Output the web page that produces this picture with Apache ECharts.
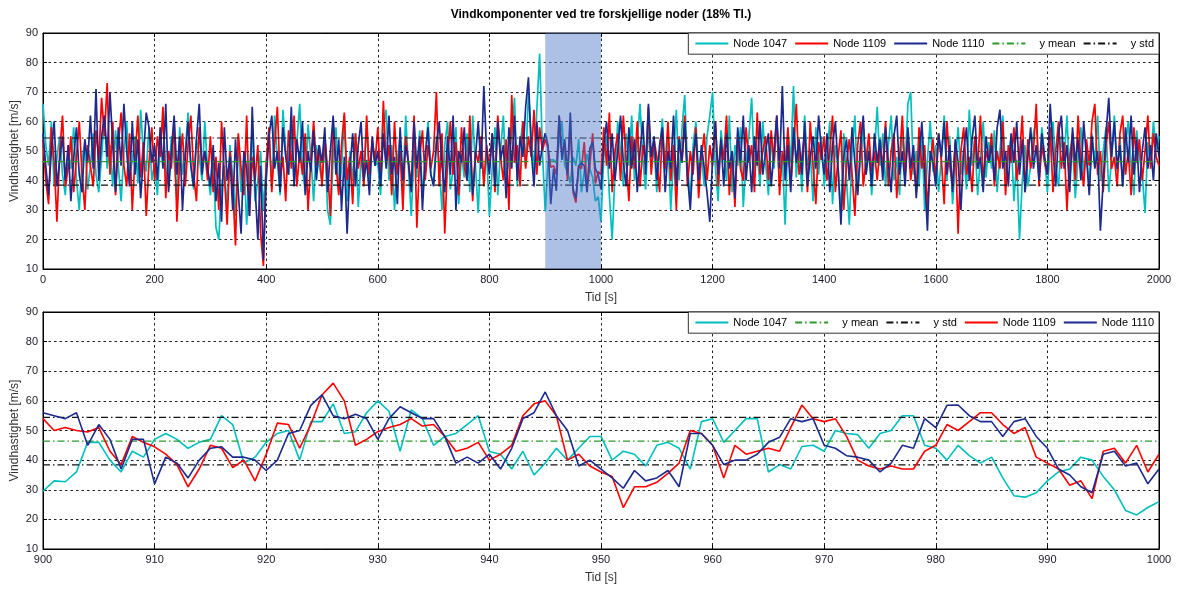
<!DOCTYPE html>
<html>
<head>
<meta charset="utf-8">
<script src="https://cdn.jsdelivr.net/npm/echarts@6/dist/echarts.min.js"></script>
<style>
  html, body { margin: 0; padding: 0; background: #fff; }
  #chart { width: 1177px; height: 591px; }
</style>
</head>
<body>
<div id="chart"></div>
<script>
// ---- data -------------------------------------------------------------
const chartTitle = 'Vindkomponenter ved tre forskjellige noder (18% TI.)';
const yName = 'Vindhastighet [m/s]';
const xName = 'Tid [s]';

// Overview: full record, one sample every 5 s from t = 0 to 2000 s
const overviewStart = 0;
const overviewStep = 5;
const overview1047 = [
  66,52,45,60,38,48,55,42,35,50,44,58,40,30,47,53,37,45,56,42,
  36,48,62,44,52,38,57,45,33,50,60,41,47,55,39,64,49,43,58,40,
  46,35,52,61,44,38,55,47,33,58,42,50,63,45,37,54,48,40,60,43,
  35,47,24,20,38,45,30,52,41,28,55,36,48,25,44,58,33,40,50,30,
  45,56,38,62,47,35,64,50,42,57,39,53,66,44,36,59,48,33,52,45,
  40,54,30,25,48,58,36,44,62,33,50,40,56,31,47,42,60,38,53,45,
  46,35,58,64,40,52,30,47,55,37,62,44,28,50,41,57,34,48,60,42,
  39,55,46,30,52,60,37,44,58,32,49,41,56,36,62,45,29,53,40,50,
  28,44,58,35,50,62,40,47,56,68,38,52,60,45,70,55,43,64,83,50,
  29.5,46,47,47,46,53,60,45,43,39,48,45,54,36,43,49,44,41,33,34.5,
  26,48,55,35,20,42,60,50,38,56,45,62,40,53,66,47,37,58,44,52,
  36,50,61,43,55,30,48,64,40,57,69,45,34,52,60,42,49,38,55,62,
  70,44,33,57,48,40,62,36,52,45,58,31,47,55,68,42,50,38,60,46,
  35,54,44,60,38,49,25,57,46,72,41,53,36,62,45,50,33,58,42,55,
  38,48,60,32,52,44,28,56,40,25,50,62,36,47,58,42,54,35,49,65,
  45,56,38,52,62,40,48,35,57,44,66,70,42,50,38,58,30,47,60,43,
  52,36,48,62,40,55,32,46,58,42,50,37,64,45,54,35,48,60,41,53,
  44,57,36,50,62,42,48,55,33,47,20,40,52,38,45,56,60,42,58,48,
  36,52,60,44,38,55,47,62,40,53,34,48,58,42,50,37,56,45,62,40,
  50,58,36,47,62,43,55,38,52,60,45,35,57,48,42,29,53,46,60,50,
  55
];
const overview1109 = [
  54,40,32,58,46,26,50,62,38,44,55,36,48,60,42,30,52,45,38,57,
  47,68,55,73,42,60,35,52,63,45,38,56,30,48,62,41,53,28,46,58,
  40,55,48,65,34,50,44,60,26,47,56,38,52,62,42,33,58,45,50,40,
  55,36,48,30,60,42,25,50,38,18,56,44,35,62,28,48,40,52,22,11,
  46,58,36,52,65,40,48,33,57,44,62,38,50,42,56,30,47,60,45,52,
  38,55,44,28,60,46,35,52,63,40,48,32,56,44,50,38,62,42,54,46,
  58,40,67,45,52,35,60,42,50,30,55,46,38,62,24,48,57,40,52,44,
  50,70,38,56,22,47,60,42,53,35,58,45,40,62,33,50,46,55,38,52,
  44,56,36,62,48,40,54,30,69,46,52,38,60,44,55,48,64,42,58,50,
  54,51,44.5,45,42,62,49.6,52,40,60,36,32.5,45,44,53,37,45,56,39,43,
  42,58,45,63,36,50,56,40,62,47,33,55,44,60,38,52,46,65,42,54,
  48,36,57,44,60,40,52,30,55,46,62,38,50,42,58,34,48,56,40,52,
  45,60,38,53,47,62,35,50,31,56,44,40,58,46,52,36,63,42,50,55,
  40,57,46,62,35,50,44,58,38,52,66,42,48,56,36,60,45,32,53,47,
  55,40,50,62,36,48,57,30,46,54,42,28,52,60,38,47,56,43,50,40,
  52,45,60,38,50,56,34,47,62,42,55,40,48,36,58,44,52,30,46,54,
  40,56,47,32,60,45,38,53,22,50,58,42,48,36,55,44,62,40,50,46,
  56,38,50,44,60,35,52,46,58,40,48,62,36,54,44,50,66,38,52,46,
  42,58,36,50,60,44,53,30,48,56,40,62,46,38,54,45,60,66,42,50,
  36,52,60,44,48,38,56,62,42,50,35,58,46,54,40,50,62,44,56,48,
  45
];
const overview1110 = [
  56,45,35,50,60,38,47,55,40,52,33,48,58,42,36,54,46,62,44,71,
  40,55,62,48,70,52,36,58,45,66,50,38,60,42,54,34,48,63,58,46,
  52,40,58,44,66,36,50,62,42,55,30,48,60,45,38,54,66,42,50,44,
  38,52,33,46,26,58,40,48,30,54,36,22,50,44,28,65,38,20,45,13,
  40,55,62,44,50,36,58,48,42,65,38,54,46,60,35,50,43,57,40,52,
  46,58,36,50,62,42,54,30,48,22,44,56,38,52,60,40,47,35,55,45,
  50,38,56,44,62,42,48,32,58,40,52,46,36,60,44,55,30,48,58,42,
  38,52,60,45,36,55,42,62,30,50,46,58,40,54,35,48,60,44,72,50,
  42,56,38,60,47,52,34,58,44,62,40,55,48,65,75,50,38,60,45,52,
  56,52,32,44,36.5,62,47,54,42,63,37,34,45,46,45,36,51,53,44,42,
  37,52,60,44,56,40,50,62,46,38,58,44,54,36,50,60,42,66,48,55,
  40,52,58,36,50,44,62,38,54,46,60,42,30,48,56,40,52,44,36,26,
  48,60,42,54,38,56,44,50,34,58,46,62,40,52,36,55,45,60,42,50,
  56,38,50,62,44,72,40,52,36,58,46,54,42,60,38,48,55,44,62,50,
  42,56,36,52,60,44,25,48,54,40,58,46,35,52,62,42,50,38,56,46,
  54,40,58,46,36,55,62,42,50,38,58,44,52,34,48,60,42,23,50,46,
  38,56,48,60,42,52,36,54,46,30,50,58,40,54,62,44,48,36,55,46,
  52,40,58,64,44,50,38,56,46,60,42,54,36,48,58,44,52,40,56,48,
  42,66,50,38,56,62,44,52,36,58,46,54,40,60,48,35,55,44,50,23,
  40,56,68,48,60,44,52,38,58,46,62,42,54,36,50,58,44,52,40,56,
  48
];

// Detail window 900-1000 s, one sample per second
const detailStart = 900;
const detailStep = 1;
const detail1047 = [
  29.5,33,32.7,36,46,46,40,36,43,41,
  47,49,47,44,46,47,55,52,39,41,
  46,49,50,40,53,53,59,49,49.6,56,
  60,56.5,43,57,54,45,48,49,52,55,
  42.9,42,37,43,35,39,44,40,44,48,
  48,40,43,42,38,45,46,44,37,53,
  54,46,50,54,54,36,38.5,37,44.6,45,
  43,50,49,48.6,44,49,50,55,55,45,
  44,40,45,41.5,39,41,34,28,27.5,29,
  33,36,37,41,40,34.5,30,23,21.5,24,
  26
];
const detail1109 = [
  54,50,51,50,49.5,51,43,38.5,48,46,
  44.5,42,38.5,31,37,45,44,37.5,40,33,
  42,52.5,52,44,52,62,66,60,45,47,
  49.6,51,52,54,51.5,52,48,43,44,46,
  40,42,45,55,59,60,55,40,42,38,
  36,34.5,24,31,31,32.5,35.5,39,50,49,
  45,34,45,42,43,44,43,51,58.6,54,
  53,54,48,40,38,37,38,37,37,43,
  45,52,50,53,56,56,52,49,51,41,
  39,37,31.5,33,27,43,44,39,45,36,
  42
];
const detail1110 = [
  56,55,54,56,45,52,47,37,47,47,
  32,41,39,34,40,44,44.5,41,41,40,
  36.5,40,49,50,58.5,62,55,54,55.5,54,
  47,54,58,56,54,54,48,39,41,39,
  42,37,44,54,56,63,55,50,38,40,
  37,34,30.5,36.5,33,34,36.5,31,49,49,
  45,38.5,40,40,42,46,47.7,54,53,54,
  45,44,41.5,41,40,36,39,45,44,54,
  51,58.5,58.6,55,53,53,48,53,54,48,
  44,37,35,31,29,42,43,38,39,32,
  37
];

const yMean = 46.4;
const yStd = 8.0;

// axis ranges: [min, max, interval]
const overviewRange = [0, 2000, 200];
const detailRange = [900, 1000, 10];
const yRange = [10, 90, 10];

// ---- styling ----------------------------------------------------------
const C1047 = '#00bfbf';
const C1109 = '#ff0000';
const C1110 = '#1b2a8c';
const CMEAN = '#2a9a2a';
const CSTD = '#111111';
const FONT = '"Liberation Sans", Arial, sans-serif';
const dashDot = [7, 3, 1.5, 3];

function toPairs(start, step, arr) {
  return arr.map((v, i) => [start + i * step, v]);
}

function nodeSeries(name, color, data, idx, width) {
  return {
    name, type: 'line', xAxisIndex: idx, yAxisIndex: idx, data,
    symbol: 'none', showSymbol: false, silent: true, animation: false,
    lineStyle: { color, width }, itemStyle: { color }
  };
}

function levelSeries(name, color, value, range, idx) {
  return {
    name, type: 'line', xAxisIndex: idx, yAxisIndex: idx,
    data: [[range[0], value], [range[1], value]],
    symbol: 'none', showSymbol: false, silent: true, animation: false,
    lineStyle: { color, width: 1.2, type: dashDot }, itemStyle: { color }
  };
}

function xAxes(gridIndex, range) {
  return [{
    gridIndex, type: 'value', position: 'bottom',
    min: range[0], max: range[1], interval: range[2],
    axisLine: { onZero: false, lineStyle: { color: '#000', width: 1 } },
    axisTick: { inside: true, length: 4, lineStyle: { color: '#000' } },
    axisLabel: { margin: 5, fontSize: 11, color: '#1a1a2a', fontFamily: FONT, formatter: v => String(v) },
    splitLine: { show: true, lineStyle: { color: '#222', type: [2.5, 3], width: 1 } },
    name: xName, nameLocation: 'middle', nameGap: 23, nameMoveOverlap: false,
    nameTextStyle: { fontSize: 12, color: '#333', fontFamily: FONT }
  }, {
    gridIndex, type: 'value', position: 'top',
    min: range[0], max: range[1], interval: range[2],
    axisLine: { onZero: false, lineStyle: { color: '#000', width: 1 } },
    axisTick: { inside: true, length: 4, lineStyle: { color: '#000' } },
    axisLabel: { show: false }, splitLine: { show: false }
  }];
}

function yAxes(gridIndex) {
  return [{
    gridIndex, type: 'value', position: 'left',
    min: yRange[0], max: yRange[1], interval: yRange[2],
    axisLine: { onZero: false, show: true, lineStyle: { color: '#000', width: 1 } },
    axisTick: { show: true, inside: true, length: 4, lineStyle: { color: '#000' } },
    axisLabel: { margin: 5, fontSize: 11, color: '#1a1a2a', fontFamily: FONT },
    splitLine: { show: true, lineStyle: { color: '#222', type: [2.5, 3], width: 1 } },
    name: yName, nameLocation: 'middle', nameGap: 22, nameMoveOverlap: false,
    nameTextStyle: { fontSize: 12, color: '#333', fontFamily: FONT }
  }, {
    gridIndex, type: 'value', position: 'right',
    min: yRange[0], max: yRange[1], interval: yRange[2],
    axisLine: { onZero: false, show: true, lineStyle: { color: '#000', width: 1 } },
    axisTick: { show: true, inside: true, length: 4, lineStyle: { color: '#000' } },
    axisLabel: { show: false }, splitLine: { show: false }
  }];
}

function legendBox(top, names) {
  return {
    top, right: 18, orient: 'horizontal',
    data: names,
    itemWidth: 33, itemHeight: 14, itemGap: 7,
    padding: [5, 5, 5, 6],
    backgroundColor: '#fff', borderColor: '#333', borderWidth: 1,
    selectedMode: false,
    itemStyle: { opacity: 0 },
    textStyle: { fontSize: 11, color: '#000', fontFamily: FONT },
    formatter: n => (n.indexOf('y ') === 0 ? '   ' + n : n),
    z: 20
  };
}

const o1047 = toPairs(overviewStart, overviewStep, overview1047);
const o1109 = toPairs(overviewStart, overviewStep, overview1109);
const o1110 = toPairs(overviewStart, overviewStep, overview1110);
const d1047 = toPairs(detailStart, detailStep, detail1047);
const d1109 = toPairs(detailStart, detailStep, detail1109);
const d1110 = toPairs(detailStart, detailStep, detail1110);

const chart = echarts.init(document.getElementById('chart'), null, { renderer: 'canvas' });

const gridBase = { left: 43, right: 18, show: true, borderColor: '#000', borderWidth: 1, backgroundColor: '#fff', containLabel: false, outerBoundsMode: 'none' };

chart.setOption({
  animation: false,
  backgroundColor: '#fff',
  graphic: [{
    type: 'text', x: 601, y: 9, z: 30,
    style: {
      text: chartTitle, fill: '#000', textAlign: 'center', textVerticalAlign: 'top',
      font: 'bold 12px "Liberation Sans", Arial, sans-serif'
    }
  }],
  grid: [
    Object.assign({ top: 33, height: 236 }, gridBase),
    Object.assign({ top: 312, height: 237 }, gridBase)
  ],
  xAxis: [...xAxes(0, overviewRange), ...xAxes(1, detailRange)],
  yAxis: [...yAxes(0), ...yAxes(1)],
  legend: [
    legendBox(33, ['Node 1047', 'Node 1109', 'Node 1110', 'y mean', 'y std']),
    legendBox(312, ['Node 1047', 'y mean', 'y std', 'Node 1109', 'Node 1110'])
  ],
  series: [
    // overview
    nodeSeries('Node 1047', C1047, o1047, 0, 1.7),
    nodeSeries('Node 1109', C1109, o1109, 0, 1.7),
    nodeSeries('Node 1110', C1110, o1110, 0, 1.7),
    levelSeries('y mean', CMEAN, yMean, overviewRange, 0),
    levelSeries('y std', CSTD, yMean + yStd, overviewRange, 0),
    levelSeries('y std', CSTD, yMean - yStd, overviewRange, 0),
    {
      // translucent patch over the span shown in the detail panel
      name: 'detail span', type: 'line', xAxisIndex: 0, yAxisIndex: 0,
      data: [], z: 10, silent: true, animation: false,
      markArea: {
        silent: true, z: 10,
        itemStyle: { color: 'rgba(74,116,200,0.45)' },
        data: [[{ xAxis: detailRange[0] }, { xAxis: detailRange[1] }]]
      }
    },
    // detail
    nodeSeries('Node 1047', C1047, d1047, 2, 1.6),
    levelSeries('y mean', CMEAN, yMean, detailRange, 2),
    levelSeries('y std', CSTD, yMean + yStd, detailRange, 2),
    levelSeries('y std', CSTD, yMean - yStd, detailRange, 2),
    nodeSeries('Node 1109', C1109, d1109, 2, 1.6),
    nodeSeries('Node 1110', C1110, d1110, 2, 1.6)
  ]
});
</script>
</body>
</html>
